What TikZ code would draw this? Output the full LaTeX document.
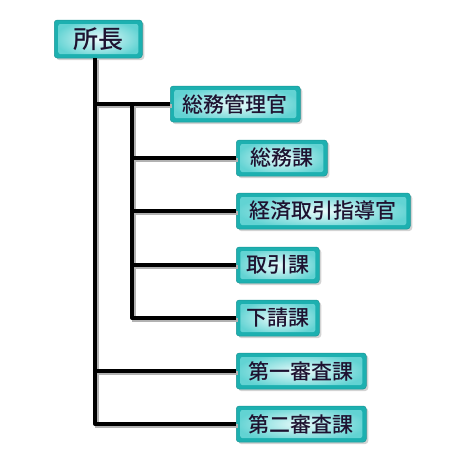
\documentclass[tikz,border=0pt]{standalone}
\usepackage{fontspec}
\newfontfamily\jp{Noto Sans CJK JP Medium}
\usetikzlibrary{shadows,calc}
\definecolor{boxout}{HTML}{1DB0B0}
\definecolor{boxmid}{HTML}{62D3D3}
\definecolor{boxin}{HTML}{EAFBFB}
\definecolor{txt}{HTML}{1E1230}
\tikzset{
  orgbox/.style={draw=boxout!85!black, line width=0.5pt, rounded corners=3pt,
    fill=boxout, text=txt,
    font=\jp\fontsize{21}{21}\selectfont, minimum height=36pt, inner xsep=0pt,
    drop shadow={shadow xshift=2pt, shadow yshift=-2pt, opacity=0.35, fill=gray},
    path picture={
      \fill[rounded corners=2pt, inner color=boxin, outer color=boxmid]
        ($(path picture bounding box.south west)+(4pt,4pt)$) rectangle
        ($(path picture bounding box.north east)+(-4pt,-4pt)$);
    }},
  conn/.style={line width=4pt, black, line join=round,
    preaction={draw=gray!60, line width=4pt, transform canvas={shift={(1.5pt,-1.5pt)}}}}
}
\begin{document}
\begin{tikzpicture}[x=1pt,y=-1pt]
\useasboundingbox (0,0) rectangle (450,475);
\node[orgbox, anchor=west, minimum width=88pt, minimum height=38pt, font=\jp\fontsize{25}{25}\selectfont] (boss) at (54,39) {所長};
\node[orgbox, anchor=west, minimum width=130pt] (a) at (170,104) {総務管理官};
\node[orgbox, anchor=west, minimum width=91pt] (a1) at (236,158) {総務課};
\node[orgbox, anchor=west, minimum width=174pt] (a2) at (236,211) {経済取引指導官};
\node[orgbox, anchor=west, minimum width=83pt] (a3) at (236,265) {取引課};
\node[orgbox, anchor=west, minimum width=83pt] (a4) at (236,318) {下請課};
\node[orgbox, anchor=west, minimum width=130pt] (b) at (236,371) {第一審査課};
\node[orgbox, anchor=west, minimum width=130pt] (c) at (236,424) {第二審査課};
\coordinate (t) at (95,0);
\coordinate (s) at (132,0);
\draw[conn] (boss.south -| t) |- (c.west);
\draw[conn] (t |- a.west) -- (a.west);
\draw[conn] (t |- b.west) -- (b.west);
\draw[conn] (s |- a.west) |- (a4.west);
\draw[conn] (s |- a1.west) -- (a1.west);
\draw[conn] (s |- a2.west) -- (a2.west);
\draw[conn] (s |- a3.west) -- (a3.west);
\end{tikzpicture}
\end{document}
